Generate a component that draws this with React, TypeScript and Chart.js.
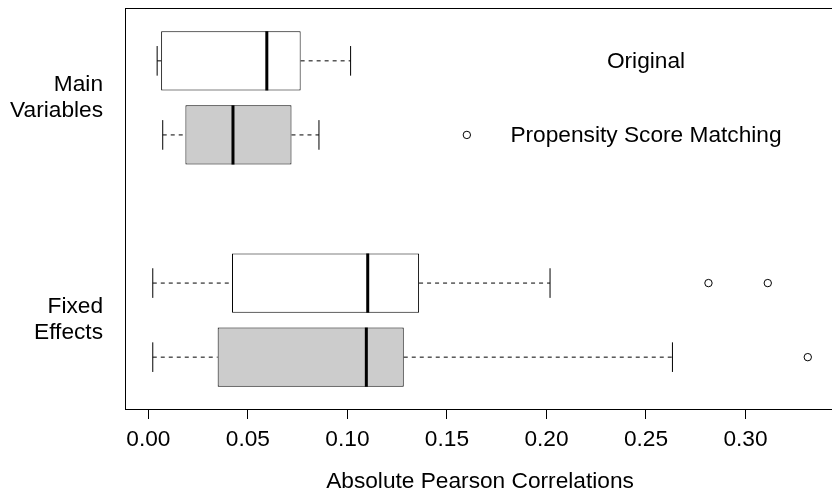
import React, { useEffect, useRef } from "react";
import { Chart, registerables } from "chart.js";

Chart.register(...registerables);

// ---- data ----
const groupLabels: string[][] = [["Fixed", "Effects"], ["Main", "Variables"]];
const groupCenters = [1.5, 4.5];
const seriesNames = ["Original", "Propensity Score Matching"];

// box positions on the vertical axis (Main Variables at top)
const originalPositions = [5, 2];
const psmPositions = [4, 1];

// Original: [Main Variables, Fixed Effects]
const originalLow = [0.0044, 0.0022];
const originalQ1 = [0.0064, 0.042];
const originalMedian = [0.0595, 0.1102];
const originalQ3 = [0.0765, 0.136];
const originalHigh = [0.1016, 0.2018];
const originalOutlierValues = [0.2814, 0.3112];
const originalOutlierPosition = 2;

// Propensity Score Matching
const psmLow = [0.0072, 0.0022];
const psmQ1 = [0.0186, 0.0348];
const psmMedian = [0.0425, 0.1095];
const psmQ3 = [0.0719, 0.1283];
const psmHigh = [0.0857, 0.2633];
const psmOutlierValues = [0.3313];
const psmOutlierPosition = 1;

const xTickValues = [0, 0.05, 0.1, 0.15, 0.2, 0.25, 0.3];
const xRange = [-0.01125, 0.34447];
const yRange = [0.3, 5.7];
const legendTextX = 0.25;
const legendMarkerX = 0.16;
const legendRows = [5, 4];

const FONT = "'Liberation Sans', Arial, Helvetica, sans-serif";
const FONT_SIZE = 22.7;

const stats = [
  { low: originalLow, q1: originalQ1, med: originalMedian, q3: originalQ3, high: originalHigh },
  { low: psmLow, q1: psmQ1, med: psmMedian, q3: psmQ3, high: psmHigh },
];

const boxExtras = {
  id: "boxExtras",
  beforeDatasetsDraw(chart: any) {
    const ctx = chart.ctx;
    const xs = chart.scales.x;
    ctx.save();
    ctx.strokeStyle = "#000";
    ctx.lineWidth = 1;
    stats.forEach((s, d) => {
      const meta = chart.getDatasetMeta(d);
      meta.data.forEach((bar: any, i: number) => {
        const { y, height } = bar.getProps(["y", "height"], true);
        const pLow = xs.getPixelForValue(s.low[i]);
        const pQ1 = xs.getPixelForValue(s.q1[i]);
        const pQ3 = xs.getPixelForValue(s.q3[i]);
        const pHigh = xs.getPixelForValue(s.high[i]);
        ctx.setLineDash([4, 4]);
        ctx.beginPath();
        ctx.moveTo(pLow, y);
        ctx.lineTo(pQ1, y);
        ctx.moveTo(pQ3, y);
        ctx.lineTo(pHigh, y);
        ctx.stroke();
        ctx.setLineDash([]);
        ctx.beginPath();
        ctx.moveTo(pLow, y - height / 4);
        ctx.lineTo(pLow, y + height / 4);
        ctx.moveTo(pHigh, y - height / 4);
        ctx.lineTo(pHigh, y + height / 4);
        ctx.stroke();
      });
    });
    ctx.restore();
  },
  afterDatasetsDraw(chart: any) {
    const ctx = chart.ctx;
    const xs = chart.scales.x;
    const ys = chart.scales.y;
    const area = chart.chartArea;
    ctx.save();
    // medians
    ctx.strokeStyle = "#000";
    ctx.lineWidth = 3;
    stats.forEach((s, d) => {
      const meta = chart.getDatasetMeta(d);
      meta.data.forEach((bar: any, i: number) => {
        const { y, height } = bar.getProps(["y", "height"], true);
        const pm = xs.getPixelForValue(s.med[i]);
        ctx.beginPath();
        ctx.moveTo(pm, y - height / 2);
        ctx.lineTo(pm, y + height / 2);
        ctx.stroke();
      });
    });
    // frame
    ctx.lineWidth = 1;
    ctx.strokeRect(area.left - 0.5, area.top - 0.5, area.right - area.left + 1, area.bottom - area.top + 1);
    // legend texts
    ctx.fillStyle = "#000";
    ctx.font = `${FONT_SIZE}px ${FONT}`;
    ctx.textAlign = "center";
    ctx.textBaseline = "middle";
    seriesNames.forEach((name, i) => {
      ctx.fillText(name, xs.getPixelForValue(legendTextX), ys.getPixelForValue(legendRows[i]) + 1);
    });
    ctx.restore();
  },
};

const zeroPadding = (scale: any) => {
  scale.paddingTop = 0;
  scale.paddingBottom = 0;
  scale.paddingLeft = 0;
  scale.paddingRight = 0;
};

export default function App() {
  const canvasRef = useRef<HTMLCanvasElement | null>(null);

  useEffect(() => {
    const canvas = canvasRef.current;
    if (!canvas) return;
    const chart = new Chart(canvas, {
      type: "bar",
      data: {
        datasets: [
          {
            type: "bar",
            label: seriesNames[0],
            data: originalPositions.map((p, i) => ({ y: p, x: [originalQ1[i], originalQ3[i]] })) as any,
            backgroundColor: "#FFFFFF",
            borderColor: "#000000",
            borderWidth: 1,
            borderSkipped: false,
            grouped: false,
            barPercentage: 0.8,
            categoryPercentage: 1,
          } as any,
          {
            type: "bar",
            label: seriesNames[1],
            data: psmPositions.map((p, i) => ({ y: p, x: [psmQ1[i], psmQ3[i]] })) as any,
            backgroundColor: "#CCCCCC",
            borderColor: "#000000",
            borderWidth: 1,
            borderSkipped: false,
            grouped: false,
            barPercentage: 0.8,
            categoryPercentage: 1,
          } as any,
          {
            type: "scatter",
            label: "outliers",
            data: [
              ...originalOutlierValues.map((v) => ({ x: v, y: originalOutlierPosition })),
              ...psmOutlierValues.map((v) => ({ x: v, y: psmOutlierPosition })),
            ],
            pointStyle: "circle",
            pointRadius: 3.7,
            borderColor: "#000000",
            borderWidth: 1,
            backgroundColor: "rgba(0,0,0,0)",
            showLine: false,
          } as any,
          {
            type: "scatter",
            label: "legend marker",
            data: [{ x: legendMarkerX, y: legendRows[1] }],
            pointStyle: "circle",
            pointRadius: 3.7,
            borderColor: "#000000",
            borderWidth: 1,
            backgroundColor: "rgba(0,0,0,0)",
            showLine: false,
          } as any,
        ],
      },
      options: {
        indexAxis: "y",
        responsive: false,
        maintainAspectRatio: false,
        animation: false,
        layout: { autoPadding: false, padding: { top: 9, left: 0, right: 0, bottom: 0 } },
        plugins: { legend: { display: false }, tooltip: { enabled: false } },
        scales: {
          x: {
            type: "linear",
            position: "bottom",
            offset: false,
            grace: 0,
            min: xRange[0],
            max: xRange[1],
            afterBuildTicks: (scale: any) => {
              scale.ticks = xTickValues.map((v) => ({ value: v }));
              scale.min = xRange[0];
              scale.max = xRange[1];
            },
            afterFit: (scale: any) => {
              scale.height = 83;
              zeroPadding(scale);
            },
            grid: {
              display: true,
              offset: false,
              drawOnChartArea: false,
              drawTicks: true,
              tickLength: 10,
              color: "#000000",
              lineWidth: 1,
            },
            border: { display: false },
            ticks: {
              color: "#000000",
              font: { family: FONT, size: FONT_SIZE },
              padding: 7,
              maxRotation: 0,
              autoSkip: false,
              callback: (v: any) => Number(v).toFixed(2),
            },
            title: {
              display: true,
              text: "Absolute Pearson Correlations",
              color: "#000000",
              font: { family: FONT, size: FONT_SIZE },
              padding: { top: 0, bottom: -3 },
            },
          },
          y: {
            type: "linear",
            position: "left",
            offset: false,
            grace: 0,
            min: yRange[0],
            max: yRange[1],
            afterBuildTicks: (scale: any) => {
              scale.ticks = groupCenters.map((v) => ({ value: v }));
              scale.min = yRange[0];
              scale.max = yRange[1];
            },
            afterFit: (scale: any) => {
              scale.width = 126;
              zeroPadding(scale);
            },
            grid: { display: false, drawTicks: false, offset: false },
            border: { display: false },
            ticks: {
              color: "#000000",
              font: { family: FONT, size: FONT_SIZE, lineHeight: 1.15 },
              padding: 23,
              autoSkip: false,
              callback: (v: any) => {
                const idx = groupCenters.indexOf(Number(v));
                return idx >= 0 ? groupLabels[idx] : "";
              },
            },
          },
        },
      } as any,
      plugins: [boxExtras],
    });
    return () => chart.destroy();
  }, []);

  return (
    <div
      style={{
        position: "fixed",
        left: 0,
        top: 0,
        width: 832,
        height: 492,
        overflow: "hidden",
        background: "#ffffff",
      }}
    >
      <canvas ref={canvasRef} width={834} height={492} style={{ display: "block" }} />
    </div>
  );
}
